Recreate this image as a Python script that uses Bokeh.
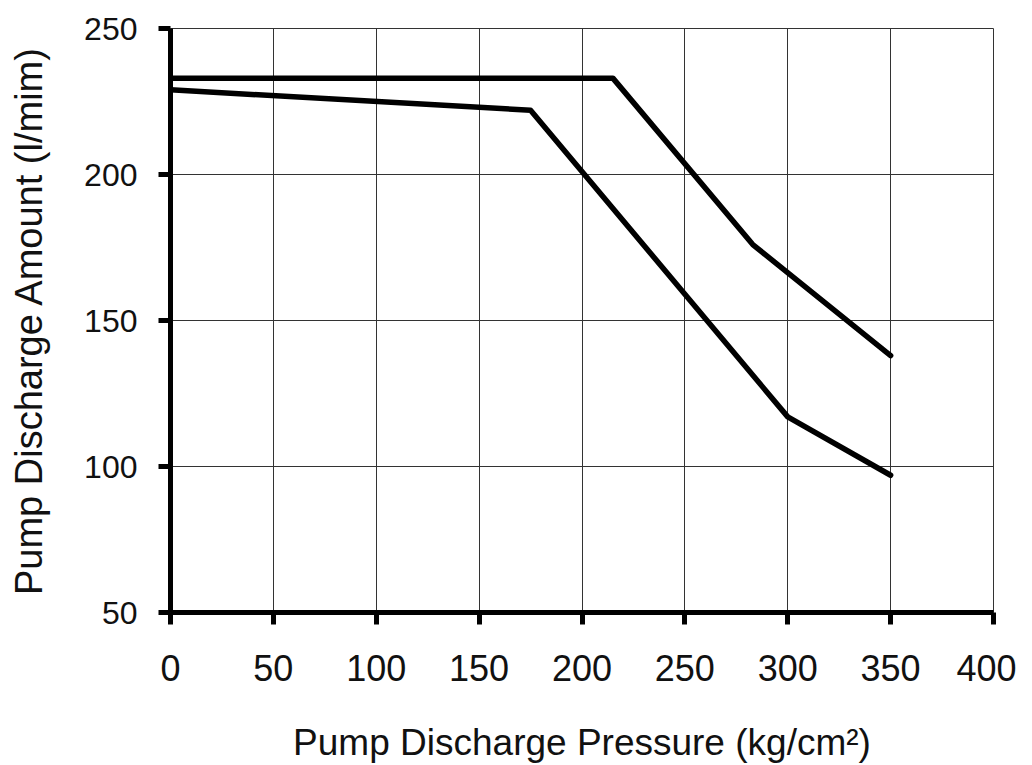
from bokeh.plotting import figure
from bokeh.models import Range1d, FixedTicker
from bokeh.embed import file_html
from bokeh.resources import INLINE

# Data
upper_x = [0, 215, 283, 350]
upper_y = [233, 233, 176, 138]
lower_x = [0, 175, 300, 350]
lower_y = [229, 222, 117, 97]

x_ticks = [0, 50, 100, 150, 200, 250, 300, 350, 400]
y_ticks = [50, 100, 150, 200, 250]

FONT = "Liberation Sans"

p = figure(width=1016, height=765, output_backend="svg", toolbar_location=None,
           x_range=Range1d(0, 400), y_range=Range1d(50, 250),
           min_border_left=170, min_border_top=28, min_border_right=23,
           min_border_bottom=152)

p.background_fill_color = "white"
p.border_fill_color = "white"
p.outline_line_color = "#333333"
p.outline_line_width = 1

for ax in (p.xaxis[0], p.yaxis[0]):
    ax.axis_line_width = 5
    ax.axis_line_color = "black"
    ax.major_tick_line_width = 5
    ax.major_tick_line_color = "black"
    ax.major_tick_out = 12
    ax.major_tick_in = 0
    ax.minor_tick_line_color = None
    ax.major_label_text_font = FONT
    ax.major_label_text_color = "#111111"
    ax.axis_label_text_font = FONT
    ax.axis_label_text_font_style = "normal"
    ax.axis_label_text_color = "#111111"

p.xaxis.ticker = FixedTicker(ticks=x_ticks)
p.yaxis.ticker = FixedTicker(ticks=y_ticks)
p.xaxis.major_label_text_font_size = "36px"
p.yaxis.major_label_text_font_size = "32px"
p.xaxis.major_label_standoff = 30
p.yaxis.major_label_standoff = 21
p.xaxis.axis_label = "Pump Discharge Pressure (kg/cm²)"
p.yaxis.axis_label = "Pump Discharge Amount (l/mim)"
p.xaxis.axis_label_text_font_size = "37px"
p.yaxis.axis_label_text_font_size = "38px"
p.xaxis.axis_label_standoff = 38
p.yaxis.axis_label_standoff = 31

p.xgrid.grid_line_color = "#333333"
p.ygrid.grid_line_color = "#333333"
p.xgrid.grid_line_width = 1
p.ygrid.grid_line_width = 1
p.xgrid.ticker = FixedTicker(ticks=x_ticks)
p.ygrid.ticker = FixedTicker(ticks=y_ticks)

p.line(upper_x, upper_y, line_color="black", line_width=5.5, line_join="round", line_cap="round")
p.line(lower_x, lower_y, line_color="black", line_width=5.5, line_join="round", line_cap="round")

open("out.html", "w").write(file_html(p, INLINE))
